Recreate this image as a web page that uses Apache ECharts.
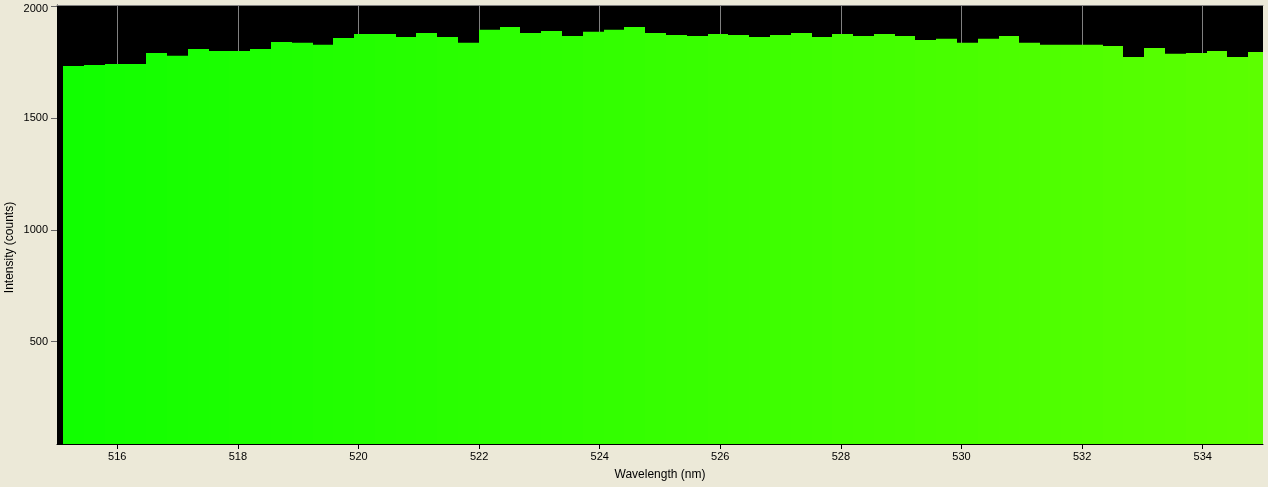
<!DOCTYPE html>
<html>
<head>
<meta charset="utf-8">
<script src="https://cdn.jsdelivr.net/npm/echarts@6/dist/echarts.min.js"></script>
<style>
html,body{margin:0;padding:0;background:#ECE9D8;}
#chart{width:1268px;height:487px;}
</style>
</head>
<body>
<div id="chart"></div>
<script>
// Bin centre wavelengths (nm)
var wavelengths = [
515.272,515.617,515.962,516.306,516.651,516.996,517.341,517.686,518.030,518.375,
518.720,519.065,519.410,519.754,520.099,520.444,520.789,521.134,521.478,521.823,
522.168,522.513,522.858,523.202,523.547,523.892,524.237,524.582,524.926,525.271,
525.616,525.961,526.306,526.650,526.995,527.340,527.685,528.030,528.374,528.719,
529.064,529.409,529.754,530.098,530.443,530.788,531.133,531.478,531.822,532.167,
532.512,532.857,533.202,533.546,533.891,534.236,534.581,534.926
];
// Intensity (counts)
var intensities = [
1732,1736,1741,1741,1790,1777,1808,1799,1799,1808,
1839,1835,1826,1857,1875,1875,1861,1879,1861,1835,
1893,1906,1879,1888,1866,1884,1893,1906,1879,1870,
1866,1875,1870,1861,1870,1879,1861,1875,1866,1875,
1866,1848,1853,1835,1853,1866,1835,1826,1826,1826,
1821,1772,1812,1786,1790,1799,1772,1794
];
var xTicks = [516,518,520,522,524,526,528,530,532,534];
var yTicks = [500,1000,1500,2000];

var data = wavelengths.map(function(w,i){ return [w, intensities[i]]; });
var binWidth = wavelengths[1] - wavelengths[0];

var chart = echarts.init(document.getElementById('chart'));
var labelFont = {fontFamily:'Liberation Sans', fontSize:11, color:'#000'};
chart.setOption({
  backgroundColor:'#ECE9D8',
  animation:false,
  grid:{left:57,right:5,top:5,bottom:43,containLabel:false,outerBoundsMode:'none',
    show:true,backgroundColor:'#000',borderWidth:0},
  visualMap:{type:'continuous',show:false,dimension:0,min:515,max:535,seriesIndex:0,
    inRange:{color:['#10ff00','#5cff00']}},
  xAxis:[{
    type:'value',min:515,max:535,
    name:'Wavelength (nm)',nameLocation:'middle',nameGap:25,nameMoveOverlap:false,
    nameTextStyle:{fontFamily:'Liberation Sans',fontSize:12,color:'#000'},
    axisLine:{show:true,lineStyle:{color:'#000',width:1}},
    axisTick:{show:true,length:5,lineStyle:{color:'#000'},customValues:xTicks},
    axisLabel:Object.assign({margin:7,customValues:xTicks,
      formatter:function(v){ return String(v); }},labelFont),
    splitLine:{show:true,lineStyle:{color:'#808080',width:1}}
  },{
    type:'value',min:515,max:535,position:'top',
    axisLine:{show:true,lineStyle:{color:'#808080',width:1}},
    axisTick:{show:false},axisLabel:{show:false},splitLine:{show:false}
  }],
  yAxis:{
    type:'value',min:43,max:2004,
    name:'Intensity (counts)',nameLocation:'middle',nameGap:41,nameMoveOverlap:false,
    nameTextStyle:{fontFamily:'Liberation Sans',fontSize:12,color:'#000',padding:[0,46,0,0]},
    axisLine:{show:true,lineStyle:{color:'#000'}},
    axisTick:{show:true,length:6,lineStyle:{color:'#666'},customValues:yTicks},
    axisLabel:Object.assign({margin:9,customValues:yTicks,
      formatter:function(v){ return v === 2000 ? '{top|' + v + '}' : String(v); },
      rich:{top:{fontFamily:'Liberation Sans',fontSize:11,color:'#000',padding:[6,0,0,0]}}},labelFont),
    splitLine:{show:false}
  },
  series:[{
    type:'custom',
    data:data,
    encode:{x:0,y:1},
    renderItem:function(params, api){
      var c = api.value(0), v = api.value(1);
      var pTop = api.coord([c - binWidth/2, v]);
      var pBot = api.coord([c + binWidth/2, 0]);
      var x0 = Math.round(pTop[0]), x1 = Math.round(pBot[0]);
      var cs = params.coordSys;
      var rect = echarts.graphic.clipRectByRect(
        {x:x0, y:pTop[1], width:x1-x0, height:pBot[1]-pTop[1]},
        {x:cs.x, y:cs.y, width:cs.width, height:cs.height});
      if(!rect) return null;
      return {type:'rect', shape:rect, style:{fill:api.visual('color')}};
    }
  }]
});
</script>
</body>
</html>
